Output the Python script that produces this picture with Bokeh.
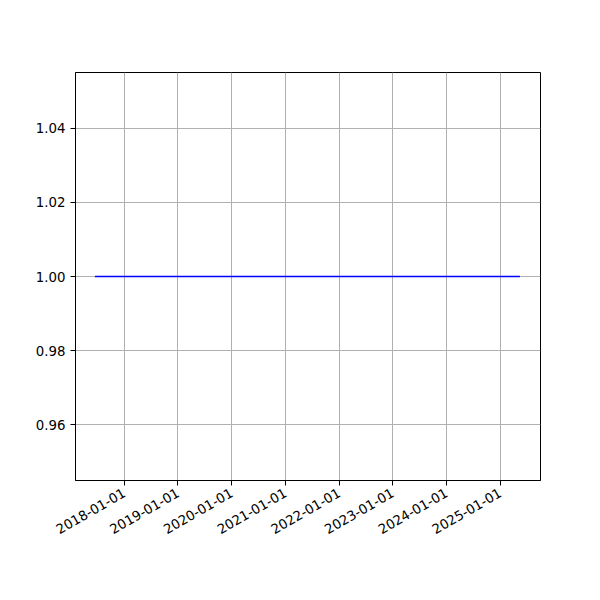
from datetime import datetime
from math import pi
from bokeh.plotting import figure
from bokeh.models import Range1d, FixedTicker, DatetimeTickFormatter, PrintfTickFormatter
from bokeh.embed import file_html
from bokeh.resources import INLINE

# data
dates = ["2017-06-16", "2025-05-15"]
values = [1.0, 1.0]
tick_years = [2018, 2019, 2020, 2021, 2022, 2023, 2024, 2025]
y_ticks = [0.96, 0.98, 1.00, 1.02, 1.04]

xs = [datetime.strptime(d, "%Y-%m-%d") for d in dates]

def ms(dt):
    return (dt - datetime(1970, 1, 1)).total_seconds() * 1000.0

x_start = datetime(2017, 2, 4)
x_end = datetime(2025, 10, 2)

p = figure(width=584, height=584, x_axis_type="datetime",
           output_backend="svg", toolbar_location=None,
           x_range=Range1d(x_start, x_end), y_range=Range1d(0.9449, 1.0551),
           min_border_left=75, min_border_right=44, min_border_top=72, min_border_bottom=104)

p.line(xs, values, line_color="#0000ff", line_width=1.5)

p.xaxis.ticker = FixedTicker(ticks=[ms(datetime(y, 1, 1)) for y in tick_years])
p.xaxis.formatter = DatetimeTickFormatter(days="%Y-%m-%d", months="%Y-%m-%d", years="%Y-%m-%d")
p.xaxis.major_label_orientation = pi / 6
p.xaxis.major_label_standoff = 6
p.yaxis.ticker = FixedTicker(ticks=y_ticks)
p.yaxis.formatter = PrintfTickFormatter(format="%.2f")

for ax in (p.xaxis, p.yaxis):
    ax.axis_line_color = "black"
    ax.axis_line_width = 1
    ax.major_tick_line_color = "black"
    ax.major_tick_in = 0
    ax.major_tick_out = 5
    ax.minor_tick_line_color = None
    ax.major_label_text_font = "DejaVu Sans"
    ax.major_label_text_font_size = "13.33px"
    ax.major_label_text_color = "black"

p.outline_line_color = "black"
p.outline_line_width = 1
p.outline_line_alpha = 1
p.xgrid.grid_line_color = "#b0b0b0"
p.ygrid.grid_line_color = "#b0b0b0"
p.xgrid.grid_line_width = 1
p.ygrid.grid_line_width = 1
p.background_fill_color = "white"
p.border_fill_color = "white"

open("out.html", "w").write(file_html(p, INLINE))
